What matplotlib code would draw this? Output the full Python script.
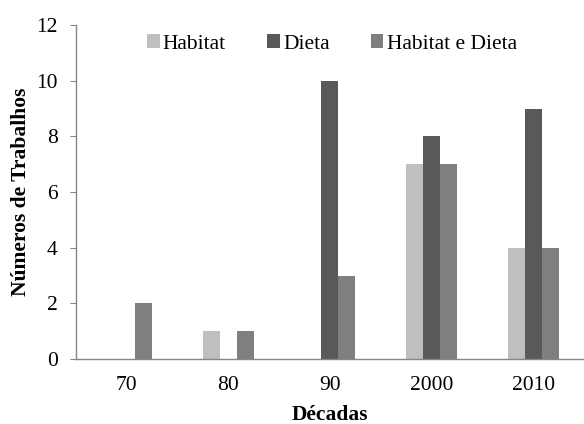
import matplotlib.pyplot as plt
import numpy as np

plt.rcParams['font.family'] = ['Liberation Serif', 'DejaVu Serif']

# Dados
decadas = ['70', '80', '90', '2000', '2010']
habitat = [0, 1, 0, 7, 4]
dieta = [0, 0, 10, 8, 9]
habitat_dieta = [2, 1, 3, 7, 4]

series = [('Habitat', habitat, '#bfbfbf'),
          ('Dieta', dieta, '#595959'),
          ('Habitat e Dieta', habitat_dieta, '#7f7f7f')]

fig = plt.figure(figsize=(5.84, 4.24), dpi=100)
ax = fig.add_axes([0.130, 0.153, 0.870, 0.788])

x = np.arange(len(decadas))
w = 1 / 6
for i, (nome, vals, cor) in enumerate(series):
    ax.bar(x + (i - 1) * w, vals, w, color=cor, label=nome)

ax.set_xlim(-0.5, len(decadas) - 0.5)
ax.set_ylim(0, 12)
ax.set_yticks(range(0, 13, 2))
ax.set_xticks(x)
ax.set_xticklabels(decadas)

for s in ['top', 'right']:
    ax.spines[s].set_visible(False)
for s in ['left', 'bottom']:
    ax.spines[s].set_color('#868686')
    ax.spines[s].set_linewidth(1.0)

fs = 15.5
ax.tick_params(axis='x', length=0, pad=12, labelsize=fs)
ax.tick_params(axis='y', length=4, color='#868686', pad=9, labelsize=fs)

ax.set_xlabel('Décadas', fontsize=fs, fontweight='bold', labelpad=7)
ax.set_ylabel('Números de Trabalhos', fontsize=fs, fontweight='bold', labelpad=4)

ax.legend(loc='center', bbox_to_anchor=(0.568, 0.896), bbox_transform=fig.transFigure,
          ncol=3, frameon=False, fontsize=fs, handlelength=0.6, handleheight=0.6,
          handletextpad=0.15, columnspacing=1.9, borderpad=0)

fig.savefig('out.png', dpi=100)
